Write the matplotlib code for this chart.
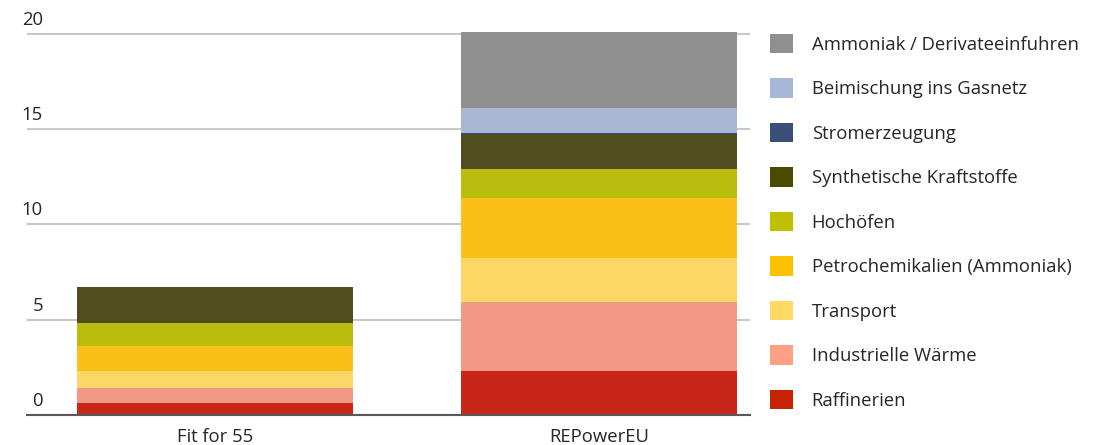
import matplotlib.pyplot as plt
from matplotlib.patches import Patch
from matplotlib import transforms

plt.rcParams['font.family'] = ['Open Sans', 'DejaVu Sans']

scenarios = ['Fit for 55', 'REPowerEU']
sectors = ['Raffinerien', 'Industrielle Wärme', 'Transport',
           'Petrochemikalien (Ammoniak)', 'Hochöfen',
           'Synthetische Kraftstoffe', 'Stromerzeugung',
           'Beimischung ins Gasnetz', 'Ammoniak / Derivateeinfuhren']
fit55 = [0.61, 0.81, 0.89, 1.31, 1.19, 1.89, 0.0, 0.0, 0.0]
repower = [2.32, 3.59, 2.31, 3.18, 1.50, 1.84, 0.06, 1.30, 3.98]
yticks = [0, 5, 10, 15, 20]

bar_colors = ['#c9261a', '#f29885', '#fdd766', '#fbbf17', '#babd0d',
              '#4e4e1e', '#3a5078', '#a7b7d4', '#8e8f8e']
legend_colors = ['#c82300', '#ff9f86', '#ffd966', '#ffc000', '#bfbf00',
                 '#4b4b00', '#3a5078', '#a7b7d7', '#8e8f8e']

fig = plt.figure(figsize=(10.99, 4.45), dpi=100)
ax = fig.add_axes([27 / 1099, 30 / 445, 723 / 1099, 0.9])

bottoms = [0.0, 0.0]
for i, name in enumerate(sectors):
    vals = [fit55[i], repower[i]]
    ax.bar([0, 1], vals, width=0.72, bottom=bottoms, color=bar_colors[i],
           zorder=3)
    bottoms = [bottoms[0] + vals[0], bottoms[1] + vals[1]]

ax.set_xlim(-0.4896, 1.3932)
ax.set_ylim(0, 21)
ax.set_xticks([0, 1])
ax.set_xticklabels(scenarios, fontsize=13.3, color='#262626')
ax.tick_params(axis='x', length=0, pad=9)
ax.set_yticks(yticks)
ax.set_yticklabels([])
ax.tick_params(axis='y', length=0)
ax.grid(axis='y', color='#c8c8c8', linewidth=1.5, zorder=0)
for s in ['top', 'right', 'left']:
    ax.spines[s].set_visible(False)
ax.spines['bottom'].set_color('#595959')
ax.spines['bottom'].set_linewidth(1.5)
ax.spines['bottom'].set_zorder(4)

# y tick labels sit above the gridlines
trans = transforms.blended_transform_factory(fig.transFigure, ax.transData)
trans = transforms.offset_copy(trans, fig=fig, y=6.5, units='points')
for t in yticks:
    ax.text(43 / 1099, t, str(t), transform=trans, ha='right',
            va='baseline', fontsize=13.3, color='#262626')

handles = [Patch(facecolor=c) for c in legend_colors][::-1]
fig.legend(handles, sectors[::-1], loc='upper left',
           bbox_to_anchor=(761 / 1099, 0.945), frameon=False,
           fontsize=13.3, handlelength=1.24, handleheight=1.24,
           handletextpad=1.0, labelspacing=1.33, borderpad=0,
           labelcolor='#262626')

fig.savefig('out.png', dpi=100)
